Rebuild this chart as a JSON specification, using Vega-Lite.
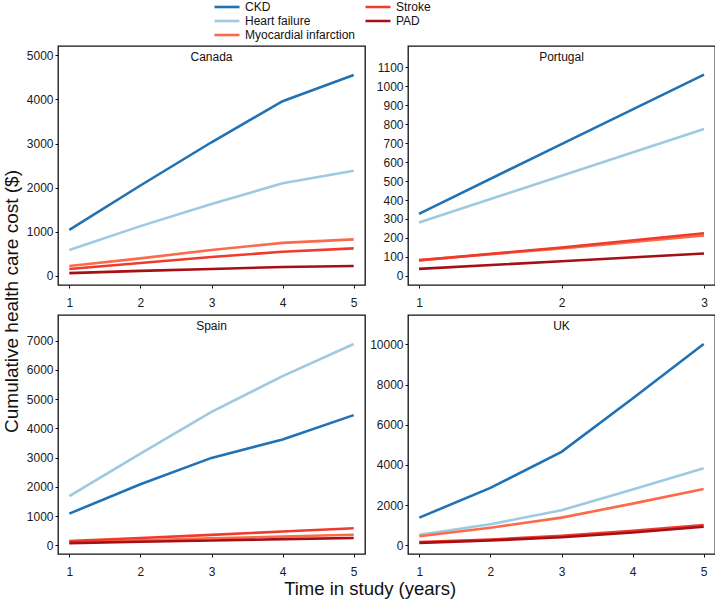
{
  "$schema": "https://vega.github.io/schema/vega-lite/v6.json",
  "padding": {"left": 2, "right": 2, "top": 0, "bottom": 1},
  "config": {
    "font": "Liberation Sans",
    "view": {"stroke": "#111111", "strokeWidth": 1.3},
    "axis": {"grid": false, "domain": false, "tickColor": "#111111", "tickSize": 3, "tickWidth": 1, "labelFontSize": 12, "labelColor": "#1a1a1a", "labelFont": "Liberation Sans", "title": null},
    "axisX": {"labelPadding": 9},
    "axisY": {"labelPadding": 2},
    "title": {"font": "Liberation Sans", "fontWeight": "normal", "color": "#111111"},
    "line": {"strokeWidth": 2.6}
  },
  "data": {"values": [
    {"country": "Canada", "cause": "CKD", "year": 1, "cost": 1045},
    {"country": "Canada", "cause": "CKD", "year": 2, "cost": 2050},
    {"country": "Canada", "cause": "CKD", "year": 3, "cost": 3030},
    {"country": "Canada", "cause": "CKD", "year": 4, "cost": 3960},
    {"country": "Canada", "cause": "CKD", "year": 5, "cost": 4555},
    {"country": "Canada", "cause": "Heart failure", "year": 1, "cost": 590},
    {"country": "Canada", "cause": "Heart failure", "year": 2, "cost": 1130},
    {"country": "Canada", "cause": "Heart failure", "year": 3, "cost": 1630},
    {"country": "Canada", "cause": "Heart failure", "year": 4, "cost": 2100},
    {"country": "Canada", "cause": "Heart failure", "year": 5, "cost": 2385},
    {"country": "Canada", "cause": "Myocardial infarction", "year": 1, "cost": 225},
    {"country": "Canada", "cause": "Myocardial infarction", "year": 2, "cost": 400},
    {"country": "Canada", "cause": "Myocardial infarction", "year": 3, "cost": 590},
    {"country": "Canada", "cause": "Myocardial infarction", "year": 4, "cost": 750},
    {"country": "Canada", "cause": "Myocardial infarction", "year": 5, "cost": 830},
    {"country": "Canada", "cause": "Stroke", "year": 1, "cost": 160},
    {"country": "Canada", "cause": "Stroke", "year": 2, "cost": 295},
    {"country": "Canada", "cause": "Stroke", "year": 3, "cost": 430},
    {"country": "Canada", "cause": "Stroke", "year": 4, "cost": 550},
    {"country": "Canada", "cause": "Stroke", "year": 5, "cost": 625},
    {"country": "Canada", "cause": "PAD", "year": 1, "cost": 65},
    {"country": "Canada", "cause": "PAD", "year": 2, "cost": 115},
    {"country": "Canada", "cause": "PAD", "year": 3, "cost": 160},
    {"country": "Canada", "cause": "PAD", "year": 4, "cost": 205},
    {"country": "Canada", "cause": "PAD", "year": 5, "cost": 225},
    {"country": "Portugal", "cause": "CKD", "year": 1, "cost": 327},
    {"country": "Portugal", "cause": "CKD", "year": 2, "cost": 695},
    {"country": "Portugal", "cause": "CKD", "year": 3, "cost": 1061},
    {"country": "Portugal", "cause": "Heart failure", "year": 1, "cost": 281},
    {"country": "Portugal", "cause": "Heart failure", "year": 2, "cost": 528},
    {"country": "Portugal", "cause": "Heart failure", "year": 3, "cost": 774},
    {"country": "Portugal", "cause": "Myocardial infarction", "year": 1, "cost": 83},
    {"country": "Portugal", "cause": "Myocardial infarction", "year": 2, "cost": 145},
    {"country": "Portugal", "cause": "Myocardial infarction", "year": 3, "cost": 213},
    {"country": "Portugal", "cause": "Stroke", "year": 1, "cost": 82},
    {"country": "Portugal", "cause": "Stroke", "year": 2, "cost": 150},
    {"country": "Portugal", "cause": "Stroke", "year": 3, "cost": 225},
    {"country": "Portugal", "cause": "PAD", "year": 1, "cost": 37},
    {"country": "Portugal", "cause": "PAD", "year": 2, "cost": 77},
    {"country": "Portugal", "cause": "PAD", "year": 3, "cost": 118},
    {"country": "Spain", "cause": "CKD", "year": 1, "cost": 1083},
    {"country": "Spain", "cause": "CKD", "year": 2, "cost": 2090},
    {"country": "Spain", "cause": "CKD", "year": 3, "cost": 2991},
    {"country": "Spain", "cause": "CKD", "year": 4, "cost": 3618},
    {"country": "Spain", "cause": "CKD", "year": 5, "cost": 4454},
    {"country": "Spain", "cause": "Heart failure", "year": 1, "cost": 1679},
    {"country": "Spain", "cause": "Heart failure", "year": 2, "cost": 3138},
    {"country": "Spain", "cause": "Heart failure", "year": 3, "cost": 4567},
    {"country": "Spain", "cause": "Heart failure", "year": 4, "cost": 5790},
    {"country": "Spain", "cause": "Heart failure", "year": 5, "cost": 6886},
    {"country": "Spain", "cause": "Myocardial infarction", "year": 1, "cost": 100},
    {"country": "Spain", "cause": "Myocardial infarction", "year": 2, "cost": 170},
    {"country": "Spain", "cause": "Myocardial infarction", "year": 3, "cost": 240},
    {"country": "Spain", "cause": "Myocardial infarction", "year": 4, "cost": 300},
    {"country": "Spain", "cause": "Myocardial infarction", "year": 5, "cost": 360},
    {"country": "Spain", "cause": "Stroke", "year": 1, "cost": 145},
    {"country": "Spain", "cause": "Stroke", "year": 2, "cost": 250},
    {"country": "Spain", "cause": "Stroke", "year": 3, "cost": 355},
    {"country": "Spain", "cause": "Stroke", "year": 4, "cost": 470},
    {"country": "Spain", "cause": "Stroke", "year": 5, "cost": 582},
    {"country": "Spain", "cause": "PAD", "year": 1, "cost": 75},
    {"country": "Spain", "cause": "PAD", "year": 2, "cost": 120},
    {"country": "Spain", "cause": "PAD", "year": 3, "cost": 165},
    {"country": "Spain", "cause": "PAD", "year": 4, "cost": 210},
    {"country": "Spain", "cause": "PAD", "year": 5, "cost": 250},
    {"country": "UK", "cause": "CKD", "year": 1, "cost": 1376},
    {"country": "UK", "cause": "CKD", "year": 2, "cost": 2856},
    {"country": "UK", "cause": "CKD", "year": 3, "cost": 4651},
    {"country": "UK", "cause": "CKD", "year": 4, "cost": 7308},
    {"country": "UK", "cause": "CKD", "year": 5, "cost": 10020},
    {"country": "UK", "cause": "Heart failure", "year": 1, "cost": 528},
    {"country": "UK", "cause": "Heart failure", "year": 2, "cost": 1047},
    {"country": "UK", "cause": "Heart failure", "year": 3, "cost": 1745},
    {"country": "UK", "cause": "Heart failure", "year": 4, "cost": 2772},
    {"country": "UK", "cause": "Heart failure", "year": 5, "cost": 3838},
    {"country": "UK", "cause": "Myocardial infarction", "year": 1, "cost": 449},
    {"country": "UK", "cause": "Myocardial infarction", "year": 2, "cost": 877},
    {"country": "UK", "cause": "Myocardial infarction", "year": 3, "cost": 1376},
    {"country": "UK", "cause": "Myocardial infarction", "year": 4, "cost": 2074},
    {"country": "UK", "cause": "Myocardial infarction", "year": 5, "cost": 2807},
    {"country": "UK", "cause": "Stroke", "year": 1, "cost": 160},
    {"country": "UK", "cause": "Stroke", "year": 2, "cost": 290},
    {"country": "UK", "cause": "Stroke", "year": 3, "cost": 470},
    {"country": "UK", "cause": "Stroke", "year": 4, "cost": 720},
    {"country": "UK", "cause": "Stroke", "year": 5, "cost": 1010},
    {"country": "UK", "cause": "PAD", "year": 1, "cost": 120},
    {"country": "UK", "cause": "PAD", "year": 2, "cost": 240},
    {"country": "UK", "cause": "PAD", "year": 3, "cost": 400},
    {"country": "UK", "cause": "PAD", "year": 4, "cost": 640},
    {"country": "UK", "cause": "PAD", "year": 5, "cost": 920}
  ]},
  "title": {"text": "Time in study (years)", "orient": "bottom", "anchor": "middle", "fontSize": 18.5, "offset": 2, "dx": 11},
  "vconcat": [
    {
      "title": {"text": "Cumulative health care cost ($)", "orient": "left", "anchor": "middle", "fontSize": 19, "offset": 4, "dx": 10},
      "columns": 2,
      "bounds": "flush",
      "spacing": {"row": 30, "column": 43},
      "concat": [
        {
          "width": 307, "height": 239,
          "layer": [
            {
              "transform": [{"filter": "datum.country === 'Canada'"}],
              "mark": "line",
              "encoding": {
                "x": {"field": "year", "type": "quantitative", "scale": {"domain": [0.841, 5.159], "nice": false, "zero": false}, "axis": {"values": [1, 2, 3, 4, 5], "format": "d"}},
                "y": {"field": "cost", "type": "quantitative", "scale": {"domain": [-204, 5211], "nice": false, "zero": false}, "axis": {"values": [0, 1000, 2000, 3000, 4000, 5000], "format": "d"}},
                "color": {"field": "cause", "type": "nominal",
                  "scale": {"domain": ["CKD", "Heart failure", "Myocardial infarction", "Stroke", "PAD"], "range": ["#2171b5", "#9ecae1", "#fb6a4a", "#ef3b2c", "#a50f15"]},
                  "legend": {"orient": "none", "legendX": 155, "legendY": -46, "columns": 2, "title": null, "symbolType": "stroke", "symbolSize": 625, "symbolStrokeWidth": 3, "labelFontSize": 12, "labelOffset": 4, "columnPadding": 8, "rowPadding": 0, "clipHeight": 14, "labelColor": "#111111"}}
              }
            },
            {
              "data": {"values": [{"country": "Canada"}]},
              "mark": {"type": "text", "fontSize": 12, "baseline": "middle", "align": "center", "color": "#111111", "font": "Liberation Sans"},
              "encoding": {
                "x": {"datum": 3, "type": "quantitative", "scale": {"domain": [0.841, 5.159], "nice": false, "zero": false}, "axis": {"values": [1, 2, 3, 4, 5], "format": "d"}},
                "y": {"datum": 4955, "type": "quantitative", "scale": {"domain": [-204, 5211], "nice": false, "zero": false}, "axis": {"values": [0, 1000, 2000, 3000, 4000, 5000], "format": "d"}},
                "text": {"field": "country", "type": "nominal"}
              }
            }
          ]
        },
        {
          "width": 307, "height": 239,
          "layer": [
            {
              "transform": [{"filter": "datum.country === 'Portugal'"}],
              "mark": "line",
              "encoding": {
                "x": {"field": "year", "type": "quantitative", "scale": {"domain": [0.923, 3.077], "nice": false, "zero": false}, "axis": {"values": [1, 2, 3], "format": "d"}},
                "y": {"field": "cost", "type": "quantitative", "scale": {"domain": [-48, 1212], "nice": false, "zero": false}, "axis": {"values": [0, 100, 200, 300, 400, 500, 600, 700, 800, 900, 1000, 1100], "format": "d"}},
                "color": {"field": "cause", "type": "nominal"}
              }
            },
            {
              "data": {"values": [{"country": "Portugal"}]},
              "mark": {"type": "text", "fontSize": 12, "baseline": "middle", "align": "center", "color": "#111111", "font": "Liberation Sans"},
              "encoding": {
                "x": {"datum": 2, "type": "quantitative", "scale": {"domain": [0.923, 3.077], "nice": false, "zero": false}, "axis": {"values": [1, 2, 3], "format": "d"}},
                "y": {"datum": 1152, "type": "quantitative", "scale": {"domain": [-48, 1212], "nice": false, "zero": false}, "axis": {"values": [0, 100, 200, 300, 400, 500, 600, 700, 800, 900, 1000, 1100], "format": "d"}},
                "text": {"field": "country", "type": "nominal"}
              }
            }
          ]
        },
        {
          "width": 307, "height": 239,
          "layer": [
            {
              "transform": [{"filter": "datum.country === 'Spain'"}],
              "mark": "line",
              "encoding": {
                "x": {"field": "year", "type": "quantitative", "scale": {"domain": [0.841, 5.159], "nice": false, "zero": false}, "axis": {"values": [1, 2, 3, 4, 5], "format": "d"}},
                "y": {"field": "cost", "type": "quantitative", "scale": {"domain": [-298, 7879], "nice": false, "zero": false}, "axis": {"values": [0, 1000, 2000, 3000, 4000, 5000, 6000, 7000], "format": "d"}},
                "color": {"field": "cause", "type": "nominal"}
              }
            },
            {
              "data": {"values": [{"country": "Spain"}]},
              "mark": {"type": "text", "fontSize": 12, "baseline": "middle", "align": "center", "color": "#111111", "font": "Liberation Sans"},
              "encoding": {
                "x": {"datum": 3, "type": "quantitative", "scale": {"domain": [0.841, 5.159], "nice": false, "zero": false}, "axis": {"values": [1, 2, 3, 4, 5], "format": "d"}},
                "y": {"datum": 7492, "type": "quantitative", "scale": {"domain": [-298, 7879], "nice": false, "zero": false}, "axis": {"values": [0, 1000, 2000, 3000, 4000, 5000, 6000, 7000], "format": "d"}},
                "text": {"field": "country", "type": "nominal"}
              }
            }
          ]
        },
        {
          "width": 307, "height": 239,
          "layer": [
            {
              "transform": [{"filter": "datum.country === 'UK'"}],
              "mark": "line",
              "encoding": {
                "x": {"field": "year", "type": "quantitative", "scale": {"domain": [0.841, 5.159], "nice": false, "zero": false}, "axis": {"values": [1, 2, 3, 4, 5], "format": "d"}},
                "y": {"field": "cost", "type": "quantitative", "scale": {"domain": [-434, 11466], "nice": false, "zero": false}, "axis": {"values": [0, 2000, 4000, 6000, 8000, 10000], "format": "d"}},
                "color": {"field": "cause", "type": "nominal"}
              }
            },
            {
              "data": {"values": [{"country": "UK"}]},
              "mark": {"type": "text", "fontSize": 12, "baseline": "middle", "align": "center", "color": "#111111", "font": "Liberation Sans"},
              "encoding": {
                "x": {"datum": 3, "type": "quantitative", "scale": {"domain": [0.841, 5.159], "nice": false, "zero": false}, "axis": {"values": [1, 2, 3, 4, 5], "format": "d"}},
                "y": {"datum": 10903, "type": "quantitative", "scale": {"domain": [-434, 11466], "nice": false, "zero": false}, "axis": {"values": [0, 2000, 4000, 6000, 8000, 10000], "format": "d"}},
                "text": {"field": "country", "type": "nominal"}
              }
            }
          ]
        }
      ],
      "resolve": {"scale": {"x": "independent", "y": "independent"}}
    }
  ]
}
